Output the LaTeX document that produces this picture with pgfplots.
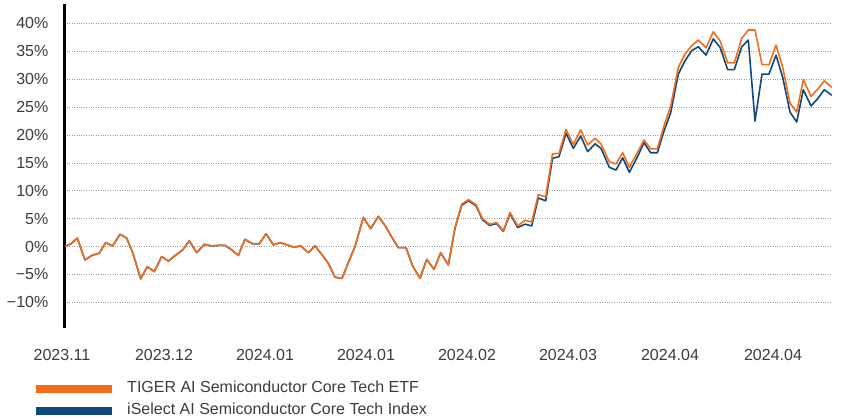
\documentclass[border=0pt]{standalone}
\usepackage{pgfplots}
\pgfplotsset{compat=1.18}
\usepackage{pgfplotstable}
\usepackage{fontspec}
\setmainfont{Liberation Sans}
\definecolor{etforange}{RGB}{242,110,28}
\definecolor{idxblue}{RGB}{16,74,125}
\definecolor{txtgray}{RGB}{60,60,60}
\definecolor{gridgray}{RGB}{160,160,160}

\pgfplotstableread{
x etf idx
65 0.0 0.0
71 0.5 0.5
77.3 1.5 1.5
85 -2.4 -2.4
91.7 -1.6 -1.6
99.3 -1.2 -1.2
105.7 0.7 0.7
112.7 0.1 0.1
120 2.2 2.2
126.7 1.5 1.5
132.7 -1.1 -1.1
140.7 -5.8 -5.8
147.3 -3.6 -3.6
154.3 -4.5 -4.5
161.7 -1.8 -1.8
168.3 -2.6 -2.6
176 -1.5 -1.5
182.7 -0.6 -0.6
189.3 1.0 1.0
196.7 -1.1 -1.1
204.3 0.4 0.4
211.7 0.1 0.1
218.3 0.2 0.2
225 0.2 0.2
231.7 -0.6 -0.6
238.3 -1.6 -1.6
245 1.3 1.3
252.3 0.5 0.5
259.3 0.5 0.5
266 2.3 2.3
273.3 0.3 0.3
280.3 0.7 0.7
287 0.3 0.3
293.7 -0.1 -0.1
301 0.1 0.1
308.3 -1.1 -1.1
315 0.1 0.1
321.7 -1.4 -1.4
328.3 -3.0 -3.0
335 -5.5 -5.5
342 -5.7 -5.7
348.3 -2.9 -2.9
355 0.0 0.0
363.3 5.2 5.2
370.7 3.2 3.2
378.3 5.4 5.4
385.3 3.7 3.7
391.7 1.7 1.7
398.3 -0.2 -0.2
406 -0.2 -0.2
412.7 -3.5 -3.5
420 -5.7 -5.7
426.7 -2.3 -2.3
434 -4.1 -4.1
440.7 -1.1 -1.1
448.3 -3.3 -3.3
455 3.4 3.3
461.7 7.6 7.4
468.5 8.4 8.2
476 7.5 7.3
482.5 5.0 4.8
489.5 4.0 3.8
496.7 4.3 4.1
503.3 2.8 2.7
510 6.1 5.9
517.7 3.7 3.4
525 4.7 4.0
531.7 4.4 3.7
538.3 9.3 8.7
545.7 8.9 8.2
552.5 16.6 15.8
559 16.7 16.1
566 21.0 20.3
573.3 18.3 17.6
580.7 20.9 19.8
587.7 18.2 17.0
595 19.4 18.4
601 18.4 17.6
609.3 15.2 14.2
616 14.8 13.7
622.7 16.8 15.9
629.3 14.2 13.3
636.7 16.6 15.8
644 19.1 18.6
650.7 17.5 16.8
657.3 17.5 16.8
664 21.6 20.7
670.7 25.2 24.0
678.3 32.1 30.9
685 34.5 33.3
691.7 36.0 35.1
698.3 37.0 35.8
706 35.6 34.3
713.3 38.5 37.2
720 36.9 35.7
727.7 32.9 31.7
734.3 32.9 31.7
741.7 37.3 35.8
748.3 38.8 37.0
755 38.8 22.5
762 32.6 30.9
769 32.6 30.9
776 36.1 34.3
782.7 32.1 30.3
790 25.7 24.1
796.7 24.1 22.3
803.3 29.9 28.1
811 26.9 25.2
817.7 28.2 26.5
824.3 29.7 28.1
831.7 28.5 27.1
}\perfdata

\begin{document}
\begin{tikzpicture}
\useasboundingbox (0,0) rectangle (842pt,-419pt);
\begin{axis}[
  at={(64.5pt,-4pt)}, anchor=north west,
  scale only axis, width=767.5pt, height=324pt,
  xmin=64.5, xmax=832,
  ymin=-14.6, ymax=43.46,
  axis x line*=bottom, axis y line*=left,
  x axis line style={draw=none},
  y axis line style={black, line width=2.3pt},
  major tick length=0pt,
  ytick={-10,-5,0,5,10,15,20,25,30,35,40},
  yticklabels={−10\%,−5\%,0\%,5\%,10\%,15\%,20\%,25\%,30\%,35\%,40\%},
  xtick={64.5,166.5,267.5,368.5,469.5,570.5,672.5,775.5},
  xticklabels={2023.11,2023.12,2024.01,2024.01,2024.02,2024.03,2024.04,2024.04},
  tick label style={font=\fontsize{16}{19}\selectfont, text=txtgray},
  yticklabel style={inner sep=0pt, anchor=east, xshift=-16pt},
  xticklabel style={inner sep=0pt, anchor=north, xshift=-2.5pt, yshift=-21.5pt},
  ymajorgrids,
  major grid style={gridgray, line width=0.6pt, dash pattern=on 0.8pt off 1.6pt},
  clip=false,
  reverse legend,
  legend image code/.code={\draw[#1, line width=8pt] (0pt,0pt) -- (76pt,0pt);},
  legend style={at={(-0.0423,-0.166)}, anchor=north west, draw=none, fill=none,
    inner sep=0pt, row sep=8pt, column sep=11pt,
    font=\fontsize{16}{19}\selectfont, text=txtgray,
    nodes={inner sep=0pt, text height=11pt, text depth=3pt}},
  legend cell align=left,
]
\addplot[idxblue, line width=1.6pt, line join=round] table[x=x, y=idx] {\perfdata};
\addlegendentry{iSelect AI Semiconductor Core Tech Index}
\addplot[etforange, line width=1.6pt, line join=round] table[x=x, y=etf] {\perfdata};
\addlegendentry{TIGER AI Semiconductor Core Tech ETF}
\end{axis}
\end{tikzpicture}
\end{document}
